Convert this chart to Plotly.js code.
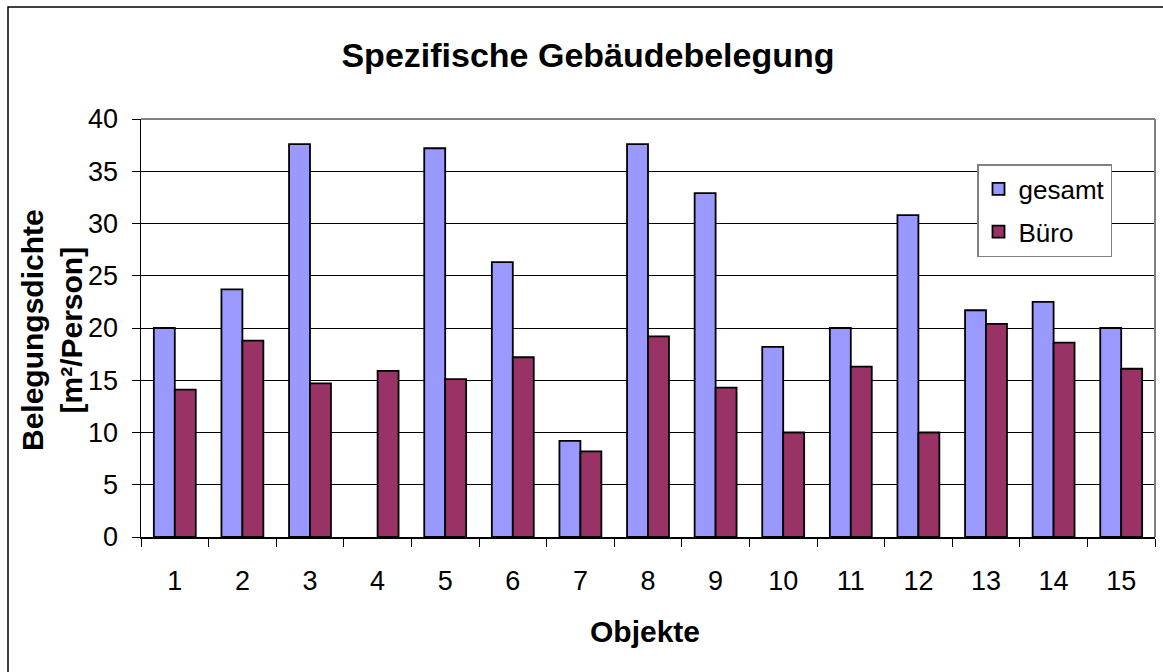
<!DOCTYPE html>
<html>
<head>
<meta charset="utf-8">
<script src="https://cdn.plot.ly/plotly-3.0.1.min.js"></script>
<style>html,body{margin:0;padding:0;background:#fff;}#chart{width:1163px;height:672px;}</style>
</head>
<body>
<div id="chart"></div>
<script>
const categories = ["1","2","3","4","5","6","7","8","9","10","11","12","13","14","15"];
const gesamt = [20.0, 23.7, 37.6, null, 37.2, 26.3, 9.2, 37.6, 32.9, 18.2, 20.0, 30.8, 21.7, 22.5, 20.0];
const buero  = [14.1, 18.8, 14.7, 15.9, 15.1, 17.2, 8.2, 19.2, 14.3, 10.0, 16.3, 10.0, 20.4, 18.6, 16.1];
const yTicks = [0, 5, 10, 15, 20, 25, 30, 35, 40];

const FONT = "Liberation Sans, Arial, sans-serif";
const L = 141, R = 1155, T = 119, B = 537;
const W = R - L, H = B - T;
const px = x => (x - L) / W;
const py = y => (B - y) / H;

const traces = [
  {type: "bar", name: "gesamt", x: categories, y: gesamt, legendgroup: "a",
   marker: {color: "#9999FF", line: {color: "#000", width: 1.8}}, hoverinfo: "x+y"},
  {type: "bar", name: "Büro", x: categories, y: buero, legendgroup: "b",
   marker: {color: "#993366", line: {color: "#000", width: 1.8}}, hoverinfo: "x+y"}
];

const layout = {
  width: 1163, height: 672,
  margin: {l: L, r: 1163 - R, t: T, b: 672 - B, pad: 0},
  paper_bgcolor: "#fff", plot_bgcolor: "#fff",
  font: {family: FONT, color: "#000"},
  title: {text: "<b>Spezifische Gebäudebelegung</b>", font: {size: 34, family: FONT, color: "#000"},
          x: 588 / 1163, xanchor: "center", xref: "container", y: 1 - 55 / 672, yanchor: "middle", yref: "container"},
  barmode: "group", bargap: 0.38, bargroupgap: 0,
  showlegend: true,
  legend: {x: px(977), y: py(164), xanchor: "left", yanchor: "top", bgcolor: "#fff",
           bordercolor: "#808080", borderwidth: 1.5, font: {size: 26, family: FONT, color: "#000"},
           traceorder: "grouped", tracegroupgap: 6},
  xaxis: {type: "category", tickson: "boundaries", ticks: "outside", ticklen: 8, tickcolor: "#000",
          tickwidth: 1, showline: true, linecolor: "#000", linewidth: 1.5, showgrid: false,
          tickfont: {size: 27, family: FONT, color: "#000"}, ticklabelstandoff: 19, fixedrange: true},
  yaxis: {range: [0, 40], tickvals: yTicks, ticktext: yTicks.map(String), ticks: "outside", ticklen: 8,
          tickcolor: "#000", tickwidth: 1, showline: true, linecolor: "#000", linewidth: 1.5,
          showgrid: true, gridcolor: "#000", gridwidth: 1, zeroline: false,
          tickfont: {size: 27, family: FONT, color: "#000"}, ticklabelstandoff: 8, fixedrange: true},
  annotations: [
    {text: "<b>Belegungsdichte</b><br><b>[m²/Person]</b>", textangle: -90, xref: "paper", yref: "paper",
     x: px(52), y: py(330), xanchor: "center", yanchor: "middle", showarrow: false,
     font: {size: 30, family: FONT, color: "#000"}},
    {text: "<b>Objekte</b>", xref: "paper", yref: "paper", x: px(645), y: py(631),
     xanchor: "center", yanchor: "middle", showarrow: false, font: {size: 30, family: FONT, color: "#000"}}
  ],
  shapes: [
    {type: "rect", xref: "paper", yref: "paper", x0: px(8), x1: px(1180), y0: py(700), y1: py(7),
     line: {color: "#000", width: 1.5}, fillcolor: "rgba(0,0,0,0)", layer: "below"},
    {type: "line", xref: "paper", yref: "paper", x0: 0, x1: 1, y0: 1, y1: 1, line: {color: "#808080", width: 2}, layer: "above"},
    {type: "line", xref: "paper", yref: "paper", x0: 1, x1: 1, y0: 0, y1: 1, line: {color: "#808080", width: 2}, layer: "above"}
  ]
};

Plotly.newPlot("chart", traces, layout, {displayModeBar: false, staticPlot: true});
</script>
</body>
</html>
